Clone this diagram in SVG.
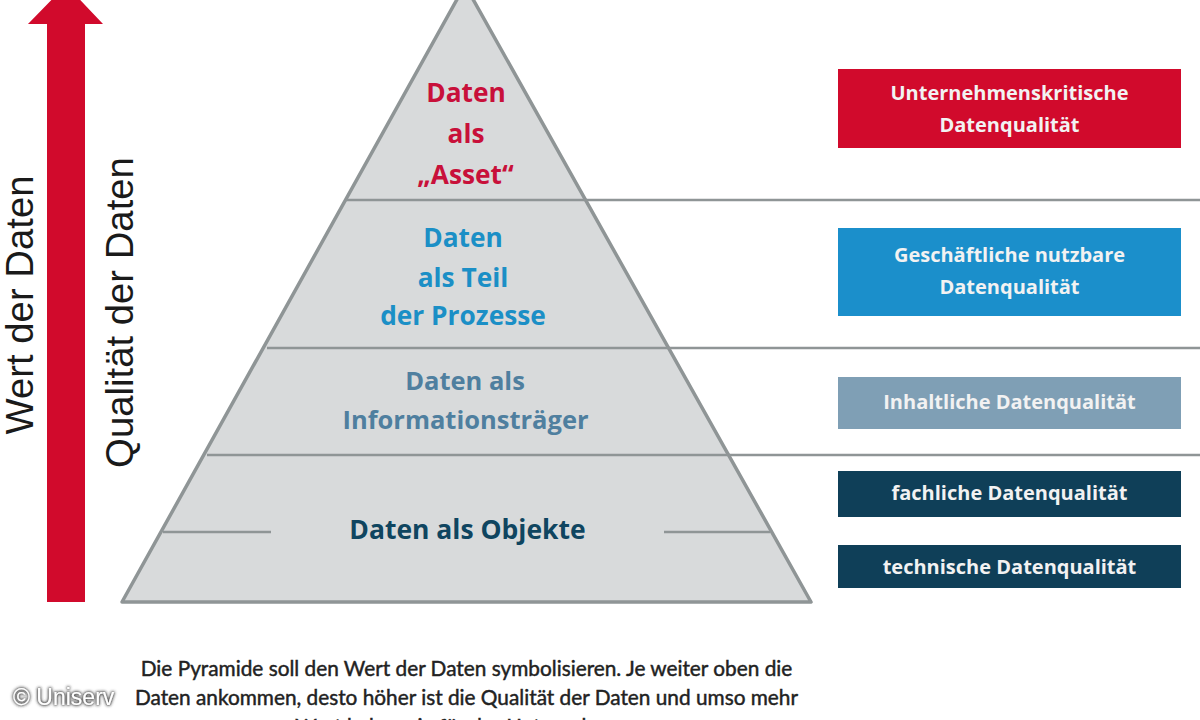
<svg xmlns="http://www.w3.org/2000/svg" width="1200" height="720" viewBox="0 0 1200 720">
<defs><filter id="halo" x="-10%" y="-30%" width="120%" height="160%"><feDropShadow dx="0" dy="0" stdDeviation="1.6" flood-color="#444"/><feDropShadow dx="0" dy="0" stdDeviation="1.2" flood-color="#555"/></filter></defs>
<style>
.c{font-family:"Open Sans","Noto Sans",sans-serif;font-weight:700;text-anchor:middle}
.p{font-size:26.3px}
.b{font-size:20px;fill:#f2f2f2}
.s{font-family:"Liberation Sans",Arial,sans-serif;font-size:38.3px;fill:#1a1a1a;text-anchor:middle}
.n{font-family:Lato,"Open Sans",sans-serif;font-size:20.8px;fill:#222;stroke:#222;stroke-width:.45;text-anchor:middle}
.l{fill:none;stroke:#8f9596;stroke-width:2.5}
</style>
<rect width="1200" height="720" fill="#fff"/>
<g id="arrow"><polygon points="66,-15 103,24 85,24 85,602 47,602 47,24 28,24" fill="#d10a2c"/></g>
<g id="pyramid"><polygon points="465,-15 811,602 122,602" fill="#d8dadb" stroke="#8f9596" stroke-width="3.5" stroke-linejoin="round"/></g>
<g id="connectors">
<path class="l" d="M346 200H1200M267 348H1200M207 455H1200M163 532H271M664 532H770"/>
</g>
<g id="axis-labels">
<text class="s" transform="translate(33,305) rotate(-90)">Wert der Daten</text>
<text class="s" transform="translate(132.500,312.500) rotate(-90)">Qualität der Daten</text>
</g>
<g id="level-asset" class="c p" fill="#c8103a">
<text x="466" y="102">Daten</text><text x="466" y="143">als</text><text x="465.500" y="184">„Asset“</text>
</g>
<g id="level-prozesse" class="c p" fill="#1b8fc6">
<text x="463" y="247">Daten</text><text x="463" y="287">als Teil</text><text x="463" y="325">der Prozesse</text>
</g>
<g id="level-info" class="c" font-size="25.500" fill="#4f7f9f">
<text x="465" y="390">Daten als</text><text x="465.500" y="429">Informationsträger</text>
</g>
<g id="level-objekte" class="c" font-size="26.500" fill="#0f4560"><text x="467.500" y="539">Daten als Objekte</text></g>
<g id="box-kritisch"><rect x="838" y="69" width="343" height="79" fill="#d10a2c"/><text class="c b" x="1009.500" y="100">Unternehmenskritische</text><text class="c b" x="1009.500" y="132">Datenqualität</text></g>
<g id="box-nutzbar"><rect x="838" y="228" width="343" height="88" fill="#1b8fcb"/><text class="c b" x="1009.500" y="262">Geschäftliche nutzbare</text><text class="c b" x="1009.500" y="294">Datenqualität</text></g>
<g id="box-inhalt"><rect x="838" y="377" width="343" height="52" fill="#7f9fb5"/><text class="c b" x="1009.500" y="409">Inhaltliche Datenqualität</text></g>
<g id="box-fach"><rect x="838" y="471" width="343" height="46" fill="#0f3f58"/><text class="c b" x="1009.500" y="500">fachliche Datenqualität</text></g>
<g id="box-technik"><rect x="838" y="545" width="343" height="43" fill="#0f3f58"/><text class="c b" x="1009.500" y="574">technische Datenqualität</text></g>
<g id="caption">
<text class="n" x="466.500" y="676">Die Pyramide soll den Wert der Daten symbolisieren. Je weiter oben die</text>
<text class="n" x="466.500" y="705">Daten ankommen, desto höher ist die Qualität der Daten und umso mehr</text>
<text class="n" x="466.500" y="734">Wert haben sie für das Unternehmen.</text>
</g>
<g id="copyright"><text x="13" y="705" font-family="'Liberation Sans',Arial,sans-serif" font-size="23" fill="#fff" filter="url(#halo)">© Uniserv</text></g>
</svg>
